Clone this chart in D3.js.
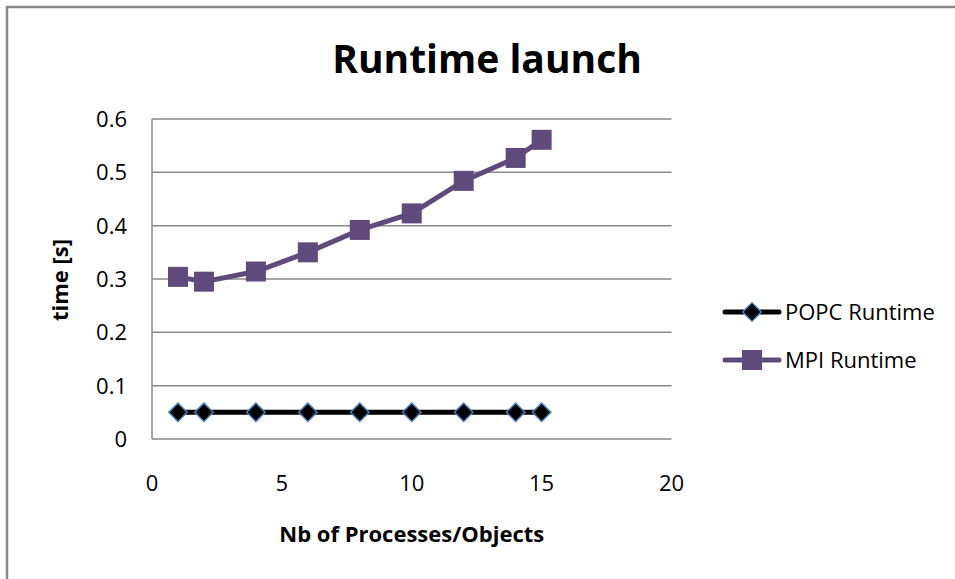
<!DOCTYPE html>
<html>
<head>
<meta charset="utf-8">
<script src="https://cdn.jsdelivr.net/npm/d3@7"></script>
<style>
	body { margin: 0; background: #fff; }
	text { font-family: 'Open Sans', Lato, sans-serif; fill: #000; }
</style>
</head>
<body>
<script>
const processes = [1, 2, 4, 6, 8, 10, 12, 14, 15]
const popcRuntime = [0.05, 0.05, 0.05, 0.05, 0.05, 0.05, 0.05, 0.05, 0.05]
const mpiRuntime = [0.304, 0.295, 0.314, 0.350, 0.392, 0.423, 0.484, 0.527, 0.561]
const xTicks = [0, 5, 10, 15, 20]
const yTicks = [0, 0.1, 0.2, 0.3, 0.4, 0.5, 0.6]
const seriesNames = ['POPC Runtime', 'MPI Runtime']

const width = 955, height = 579;
const svg = d3.select('body').append('svg').attr('width', width).attr('height', height)

// chart frame, runs off the right and bottom edges
svg.append('rect')
	.attr('x', 7).attr('y', 7)
	.attr('width', 1000).attr('height', 1000)
	.style('fill', 'none').style('stroke', '#888').style('stroke-width', 2.5)

const x = d3.scaleLinear().domain([0, 20]).range([152, 671.5])
const y = d3.scaleLinear().domain([0, 0.6]).range([439, 119])

// gridlines
svg.append('g')
	.selectAll('line')
	.data(yTicks)
	.enter()
	.append('line')
	.attr('x1', x(0)).attr('x2', x(20))
	.attr('y1', d => y(d)).attr('y2', d => y(d))
	.style('stroke', '#898989').style('stroke-width', 1.5)

svg.append('line')
	.attr('x1', x(0)).attr('x2', x(0))
	.attr('y1', y(0)).attr('y2', y(0.6))
	.style('stroke', '#898989').style('stroke-width', 1.5)

// tick labels
svg.append('g')
	.selectAll('text')
	.data(yTicks)
	.enter()
	.append('text')
	.attr('x', 127)
	.attr('y', d => y(d) + 8)
	.attr('text-anchor', 'end')
	.style('font-size', '22px')
	.text(d => d)

svg.append('g')
	.selectAll('text')
	.data(xTicks)
	.enter()
	.append('text')
	.attr('x', d => x(d))
	.attr('y', 491)
	.attr('text-anchor', 'middle')
	.style('font-size', '22px')
	.text(d => d)

// titles
svg.append('text')
	.attr('x', 487).attr('y', 73)
	.attr('text-anchor', 'middle')
	.style('font-size', '39px').style('font-weight', 'bold')
	.text('Runtime launch')

svg.append('text')
	.attr('x', (x(0) + x(20)) / 2).attr('y', 542)
	.attr('text-anchor', 'middle')
	.style('font-size', '22px').style('font-weight', 'bold')
	.text('Nb of Processes/Objects')

svg.append('text')
	.attr('transform', 'translate(68,280) rotate(-90)')
	.attr('text-anchor', 'middle')
	.style('font-size', '22px').style('font-weight', 'bold')
	.text('time [s]')

// series
const line = d3.line().x(d => x(d[0])).y(d => y(d[1]))
const popc = processes.map((p, i) => [p, popcRuntime[i]])
const mpi = processes.map((p, i) => [p, mpiRuntime[i]])

svg.append('path').attr('d', line(popc))
	.style('fill', 'none').style('stroke', '#000').style('stroke-width', 5)
svg.append('path').attr('d', line(mpi))
	.style('fill', 'none').style('stroke', '#604a7b').style('stroke-width', 5)

const diamond = d3.symbol().type(d3.symbolSquare).size(170)
const square = d3.symbol().type(d3.symbolSquare).size(400)

svg.append('g')
	.selectAll('path')
	.data(popc)
	.enter()
	.append('path')
	.attr('transform', d => `translate(${x(d[0])},${y(d[1])}) rotate(45)`)
	.attr('d', diamond)
	.style('fill', '#000').style('stroke', '#4a7ebb').style('stroke-width', 1.5)

svg.append('g')
	.selectAll('path')
	.data(mpi)
	.enter()
	.append('path')
	.attr('transform', d => `translate(${x(d[0])},${y(d[1])})`)
	.attr('d', square)
	.style('fill', '#604a7b')

// legend
const legend = svg.append('g')
	.selectAll('g')
	.data(seriesNames)
	.enter()
	.append('g')
	.attr('transform', (d, i) => `translate(725,${312 + i * 48})`)

legend.append('line')
	.attr('x1', 0).attr('x2', 54)
	.style('stroke', (d, i) => i ? '#604a7b' : '#000').style('stroke-width', 5)
	.style('stroke-linecap', 'round')

legend.append('path')
	.attr('transform', (d, i) => `translate(27,0)` + (i ? '' : ' rotate(45)'))
	.attr('d', (d, i) => i ? square() : diamond())
	.style('fill', (d, i) => i ? '#604a7b' : '#000')
	.style('stroke', (d, i) => i ? 'none' : '#4a7ebb').style('stroke-width', 1.5)

legend.append('text')
	.attr('x', 60).attr('y', 8)
	.style('font-size', '22px')
	.text(d => d)
</script>
</body>
</html>
